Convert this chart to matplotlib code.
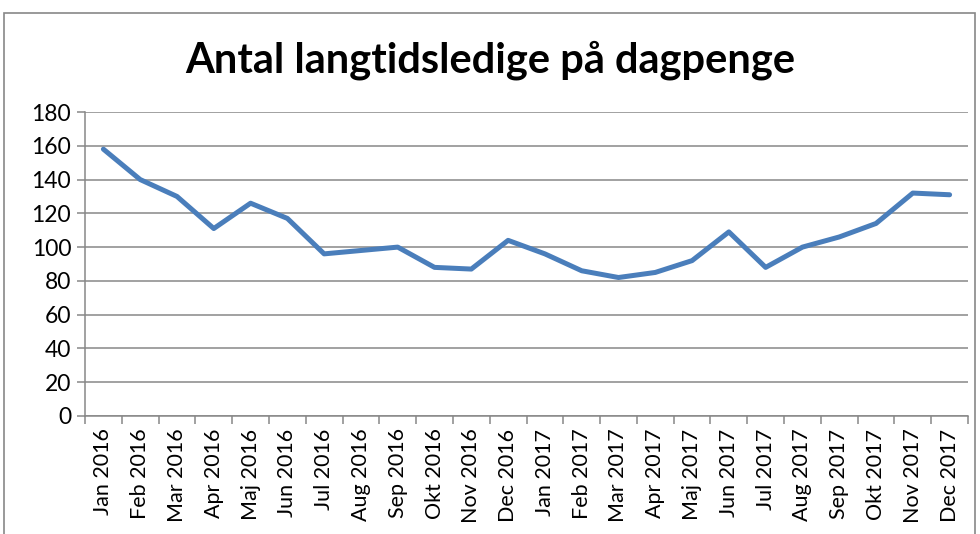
import matplotlib
matplotlib.use('Agg')
from matplotlib import pyplot as plt
from matplotlib.patches import Rectangle
import numpy as np

months = ['Jan 2016', 'Feb 2016', 'Mar 2016', 'Apr 2016', 'Maj 2016', 'Jun 2016',
          'Jul 2016', 'Aug 2016', 'Sep 2016', 'Okt 2016', 'Nov 2016', 'Dec 2016',
          'Jan 2017', 'Feb 2017', 'Mar 2017', 'Apr 2017', 'Maj 2017', 'Jun 2017',
          'Jul 2017', 'Aug 2017', 'Sep 2017', 'Okt 2017', 'Nov 2017', 'Dec 2017']
values = [158, 140, 130, 111, 126, 117, 96, 98, 100, 88, 87, 104,
          96, 86, 82, 85, 92, 109, 88, 100, 106, 114, 132, 131]
yticks = list(range(0, 181, 20))
title = 'Antal langtidsledige på dagpenge'

plt.rcParams['font.family'] = ['Lato', 'DejaVu Sans']

fig = plt.figure(figsize=(9.8, 5.34), dpi=100)
ax = fig.add_axes([85 / 980, 1 - 416 / 534, 883 / 980, 304 / 534])

x = np.arange(len(months))
ax.plot(x, values, color='#4a7ebb', lw=3.6, solid_joinstyle='round', solid_capstyle='round')

ax.set_xlim(-0.5, len(months) - 0.5)
ax.set_ylim(0, 180)
ax.set_yticks(yticks)
ax.yaxis.grid(True, color='#878787', lw=1.1)
ax.set_axisbelow(True)

ax.set_xticks(x)
ax.set_xticklabels(months, rotation=90, fontsize=15.5)
ax.set_xticks(np.arange(-0.5, len(months)), minor=True)
ax.tick_params(axis='x', which='major', length=0, pad=9)
ax.tick_params(axis='x', which='minor', length=6, color='#878787', width=1.1)
ax.tick_params(axis='y', length=6, color='#878787', width=1.1, labelsize=16.5, pad=4)

for s in ['top', 'right']:
    ax.spines[s].set_visible(False)
for s in ['left', 'bottom']:
    ax.spines[s].set_color('#878787')
    ax.spines[s].set_linewidth(1.1)

fig.text(0.5, 1 - 60 / 534, title, ha='center', va='center', fontsize=30, fontweight='bold')

# chart area border
fig.patches.append(Rectangle((4 / 980, -0.1), 971 / 980, 1.1 - 13 / 534,
                             transform=fig.transFigure, fill=False,
                             edgecolor='#878787', lw=1.2))

fig.savefig('out.png', dpi=100)
